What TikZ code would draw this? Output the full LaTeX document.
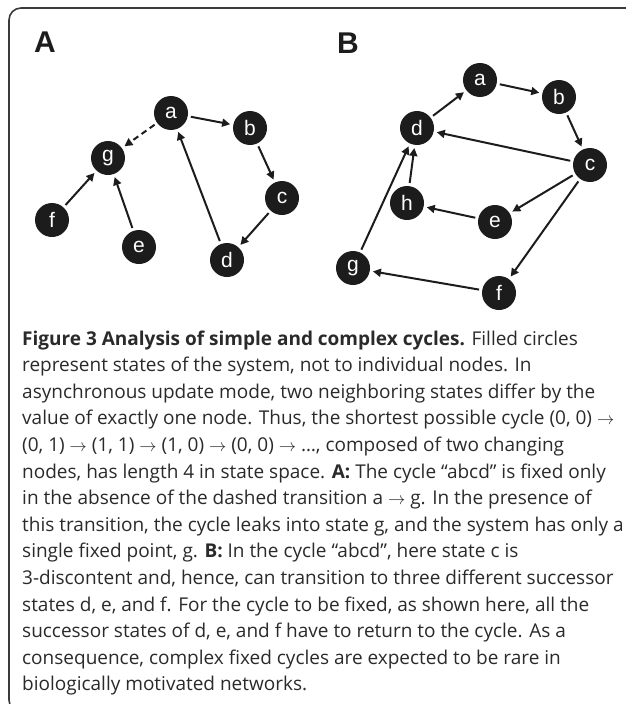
\documentclass[tikz,border=0pt]{standalone}
\usepackage{fontspec}
\setmainfont{Open Sans}
\newfontfamily\nodefont{Liberation Sans}
\usetikzlibrary{arrows.meta}

\definecolor{nodefill}{HTML}{1C1C1C}
\definecolor{edgecol}{HTML}{1C1C1C}
\definecolor{captext}{HTML}{2A2A2A}
\definecolor{framecol}{HTML}{3A3A3A}

\newcommand{\ra}{$\rightarrow$}

\tikzset{
  state/.style={circle, fill=nodefill, minimum size=34pt, inner sep=0pt,
    text=white, font=\nodefont\fontsize{21}{21}\selectfont},
  trans/.style={line width=2pt, draw=edgecol,
    -{Triangle[length=8pt,width=8pt]}, shorten >=3pt, shorten <=3pt},
  panel/.style={font=\nodefont\bfseries\fontsize{30}{30}\selectfont, text=nodefill},
  capline/.style={anchor=base west, inner sep=0pt,
    font=\fontsize{19}{22}\selectfont, text=captext},
}

\begin{document}
\begin{tikzpicture}[x=1pt, y=-1pt]
\useasboundingbox (0,0) rectangle (625,704);

% frame
\draw[framecol, line width=1.6pt, rounded corners=12pt] (626,8) -| (9,712) -- (30,712);

% panel A
\node[panel] (labA) at (45,42) {A};
\node[state] (Aa) at (171,113) {a};
\node[state] (Ab) at (250,128) {b};
\node[state] (Ac) at (282,198) {c};
\node[state] (Ad) at (227,260) {d};
\node[state] (Ae) at (139,247) {e};
\node[state] (Af) at (52,220) {f};
\node[state] (Ag) at (108,158) {g};

\draw[trans] (Aa) -- (Ab);
\draw[trans] (Ab) -- (Ac);
\draw[trans] (Ac) -- (Ad);
\draw[trans] (Ad) -- (Aa);
\draw[trans, dash pattern=on 6pt off 4pt] (Aa) -- (Ag);
\draw[trans] (Af) -- (Ag);
\draw[trans] (Ae) -- (Ag);

% panel B
\node[panel] (labB) at (348,43) {B};
\node[state] (Ba) at (480,80) {a};
\node[state] (Bb) at (559,97) {b};
\node[state] (Bc) at (590,165) {c};
\node[state] (Bd) at (417,128) {d};
\node[state] (Be) at (495,222) {e};
\node[state] (Bf) at (499,293) {f};
\node[state] (Bg) at (353,268) {g};
\node[state] (Bh) at (407,203) {h};

\draw[trans] (Ba) -- (Bb);
\draw[trans] (Bb) -- (Bc);
\draw[trans] (Bc) -- (Bd);
\draw[trans] (Bc) -- (Be);
\draw[trans] (Bc) -- (Bf);
\draw[trans] (Bd) -- (Ba);
\draw[trans] (Bh) -- (Bd);
\draw[trans] (Be) -- (Bh);
\draw[trans] (Bg) -- (Bd);
\draw[trans] (Bf) -- (Bg);

% caption
\node[capline] (l1) at (22,345.0) {\textbf{Figure 3 Analysis of simple and complex cycles.} Filled circles};
\node[capline] (l2) at (22,371.6) {represent states of the system, not to individual nodes. In};
\node[capline] (l3) at (22,398.2) {asynchronous update mode, two neighboring states differ by the};
\node[capline] (l4) at (22,424.8) {value of exactly one node. Thus, the shortest possible cycle (0, 0) \ra};
\node[capline] (l5) at (22,451.4) {(0, 1) \ra\ (1, 1) \ra\ (1, 0) \ra\ (0, 0) \ra\ …, composed of two changing};
\node[capline] (l6) at (22,478.0) {nodes, has length 4 in state space. \textbf{A:} The cycle “abcd” is fixed only};
\node[capline] (l7) at (22,504.6) {in the absence of the dashed transition a \ra\ g. In the presence of};
\node[capline] (l8) at (22,531.2) {this transition, the cycle leaks into state g, and the system has only a};
\node[capline] (l9) at (22,557.8) {single fixed point, g. \textbf{B:} In the cycle “abcd”, here state c is};
\node[capline] (l10) at (22,584.4) {3-discontent and, hence, can transition to three different successor};
\node[capline] (l11) at (22,611.0) {states d, e, and f. For the cycle to be fixed, as shown here, all the};
\node[capline] (l12) at (22,637.6) {successor states of d, e, and f have to return to the cycle. As a};
\node[capline] (l13) at (22,664.2) {consequence, complex fixed cycles are expected to be rare in};
\node[capline] (l14) at (22,690.8) {biologically motivated networks.};
\end{tikzpicture}
\end{document}
